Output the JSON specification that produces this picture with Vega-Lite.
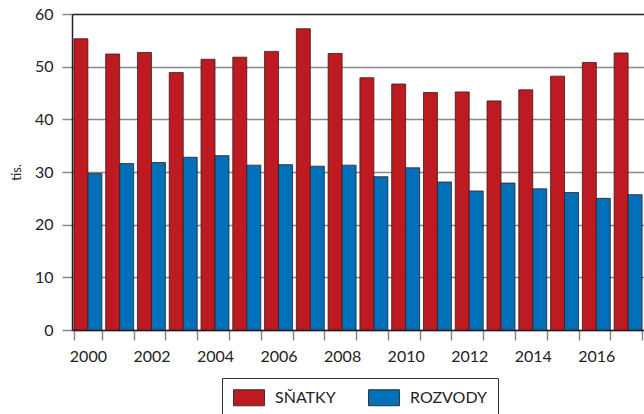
{
  "$schema": "https://vega.github.io/schema/vega-lite/v6.json",
  "autosize": {"type": "none"},
  "padding": {"left": 72, "top": 14, "right": 0, "bottom": 84},
  "width": 572,
  "height": 316,
  "config": {
    "font": "Lato",
    "view": {"stroke": "#999", "strokeWidth": 1},
    "axis": {"labelFont": "Lato", "titleFont": "Lato", "labelColor": "#222", "titleColor": "#222"}
  },
  "data": {
    "values": [
      {"rok": 2000, "serie": "SŇATKY", "hodnota": 55.3},
      {"rok": 2001, "serie": "SŇATKY", "hodnota": 52.4},
      {"rok": 2002, "serie": "SŇATKY", "hodnota": 52.7},
      {"rok": 2003, "serie": "SŇATKY", "hodnota": 48.9},
      {"rok": 2004, "serie": "SŇATKY", "hodnota": 51.4},
      {"rok": 2005, "serie": "SŇATKY", "hodnota": 51.8},
      {"rok": 2006, "serie": "SŇATKY", "hodnota": 52.9},
      {"rok": 2007, "serie": "SŇATKY", "hodnota": 57.2},
      {"rok": 2008, "serie": "SŇATKY", "hodnota": 52.5},
      {"rok": 2009, "serie": "SŇATKY", "hodnota": 47.9},
      {"rok": 2010, "serie": "SŇATKY", "hodnota": 46.7},
      {"rok": 2011, "serie": "SŇATKY", "hodnota": 45.1},
      {"rok": 2012, "serie": "SŇATKY", "hodnota": 45.2},
      {"rok": 2013, "serie": "SŇATKY", "hodnota": 43.5},
      {"rok": 2014, "serie": "SŇATKY", "hodnota": 45.6},
      {"rok": 2015, "serie": "SŇATKY", "hodnota": 48.2},
      {"rok": 2016, "serie": "SŇATKY", "hodnota": 50.8},
      {"rok": 2017, "serie": "SŇATKY", "hodnota": 52.6},
      {"rok": 2000, "serie": "ROZVODY", "hodnota": 29.7},
      {"rok": 2001, "serie": "ROZVODY", "hodnota": 31.6},
      {"rok": 2002, "serie": "ROZVODY", "hodnota": 31.8},
      {"rok": 2003, "serie": "ROZVODY", "hodnota": 32.8},
      {"rok": 2004, "serie": "ROZVODY", "hodnota": 33.1},
      {"rok": 2005, "serie": "ROZVODY", "hodnota": 31.3},
      {"rok": 2006, "serie": "ROZVODY", "hodnota": 31.4},
      {"rok": 2007, "serie": "ROZVODY", "hodnota": 31.1},
      {"rok": 2008, "serie": "ROZVODY", "hodnota": 31.3},
      {"rok": 2009, "serie": "ROZVODY", "hodnota": 29.1},
      {"rok": 2010, "serie": "ROZVODY", "hodnota": 30.8},
      {"rok": 2011, "serie": "ROZVODY", "hodnota": 28.1},
      {"rok": 2012, "serie": "ROZVODY", "hodnota": 26.4},
      {"rok": 2013, "serie": "ROZVODY", "hodnota": 27.9},
      {"rok": 2014, "serie": "ROZVODY", "hodnota": 26.8},
      {"rok": 2015, "serie": "ROZVODY", "hodnota": 26.1},
      {"rok": 2016, "serie": "ROZVODY", "hodnota": 25.0},
      {"rok": 2017, "serie": "ROZVODY", "hodnota": 25.7}
    ]
  },
  "mark": {"type": "bar", "stroke": "#3a1a1a", "strokeWidth": 0.8},
  "encoding": {
    "x": {
      "field": "rok",
      "type": "ordinal",
      "scale": {"paddingInner": 0.12, "paddingOuter": 0.06},
      "axis": {
        "title": null,
        "labelAngle": 0,
        "labelFontSize": 16,
        "labelPadding": 8,
        "tickBand": "extent",
        "tickSize": 10,
        "tickColor": "#888",
        "tickWidth": 1.5,
        "domainColor": "#222",
        "domainWidth": 1.5,
        "labelExpr": "datum.value % 2 == 0 ? datum.value : ''"
      }
    },
    "xOffset": {"field": "serie", "type": "nominal", "sort": ["SŇATKY", "ROZVODY"]},
    "y": {
      "field": "hodnota",
      "type": "quantitative",
      "scale": {"domain": [0, 60], "nice": false},
      "axis": {
        "title": "tis.",
        "titleFontSize": 13,
        "titleFontWeight": "normal",
        "titlePadding": 11,
        "values": [0, 10, 20, 30, 40, 50, 60],
        "labelFontSize": 16,
        "labelPadding": 9,
        "tickSize": 10,
        "tickColor": "#888",
        "tickWidth": 1.5,
        "domainColor": "#222",
        "domainWidth": 1.5,
        "grid": true,
        "gridColor": {"condition": {"test": "datum.value === 60", "value": "#222"}, "value": "#888"},
        "gridWidth": 1.5
      }
    },
    "color": {
      "field": "serie",
      "type": "nominal",
      "sort": ["SŇATKY", "ROZVODY"],
      "scale": {"domain": ["SŇATKY", "ROZVODY"], "range": ["#BE1A22", "#0070BA"]},
      "legend": {
        "title": null,
        "orient": "none",
        "legendX": 150,
        "legendY": 364,
        "direction": "horizontal",
        "strokeColor": "#333",
        "padding": 11,
        "symbolType": "M-1,-1H2.88V1H-1Z",
        "symbolSize": 256,
        "symbolStrokeColor": "#333",
        "symbolStrokeWidth": 1,
        "symbolOpacity": 1,
        "labelFontSize": 16,
        "labelFont": "Lato",
        "labelColor": "#222",
        "labelOffset": 25,
        "columnPadding": 30
      }
    }
  }
}
